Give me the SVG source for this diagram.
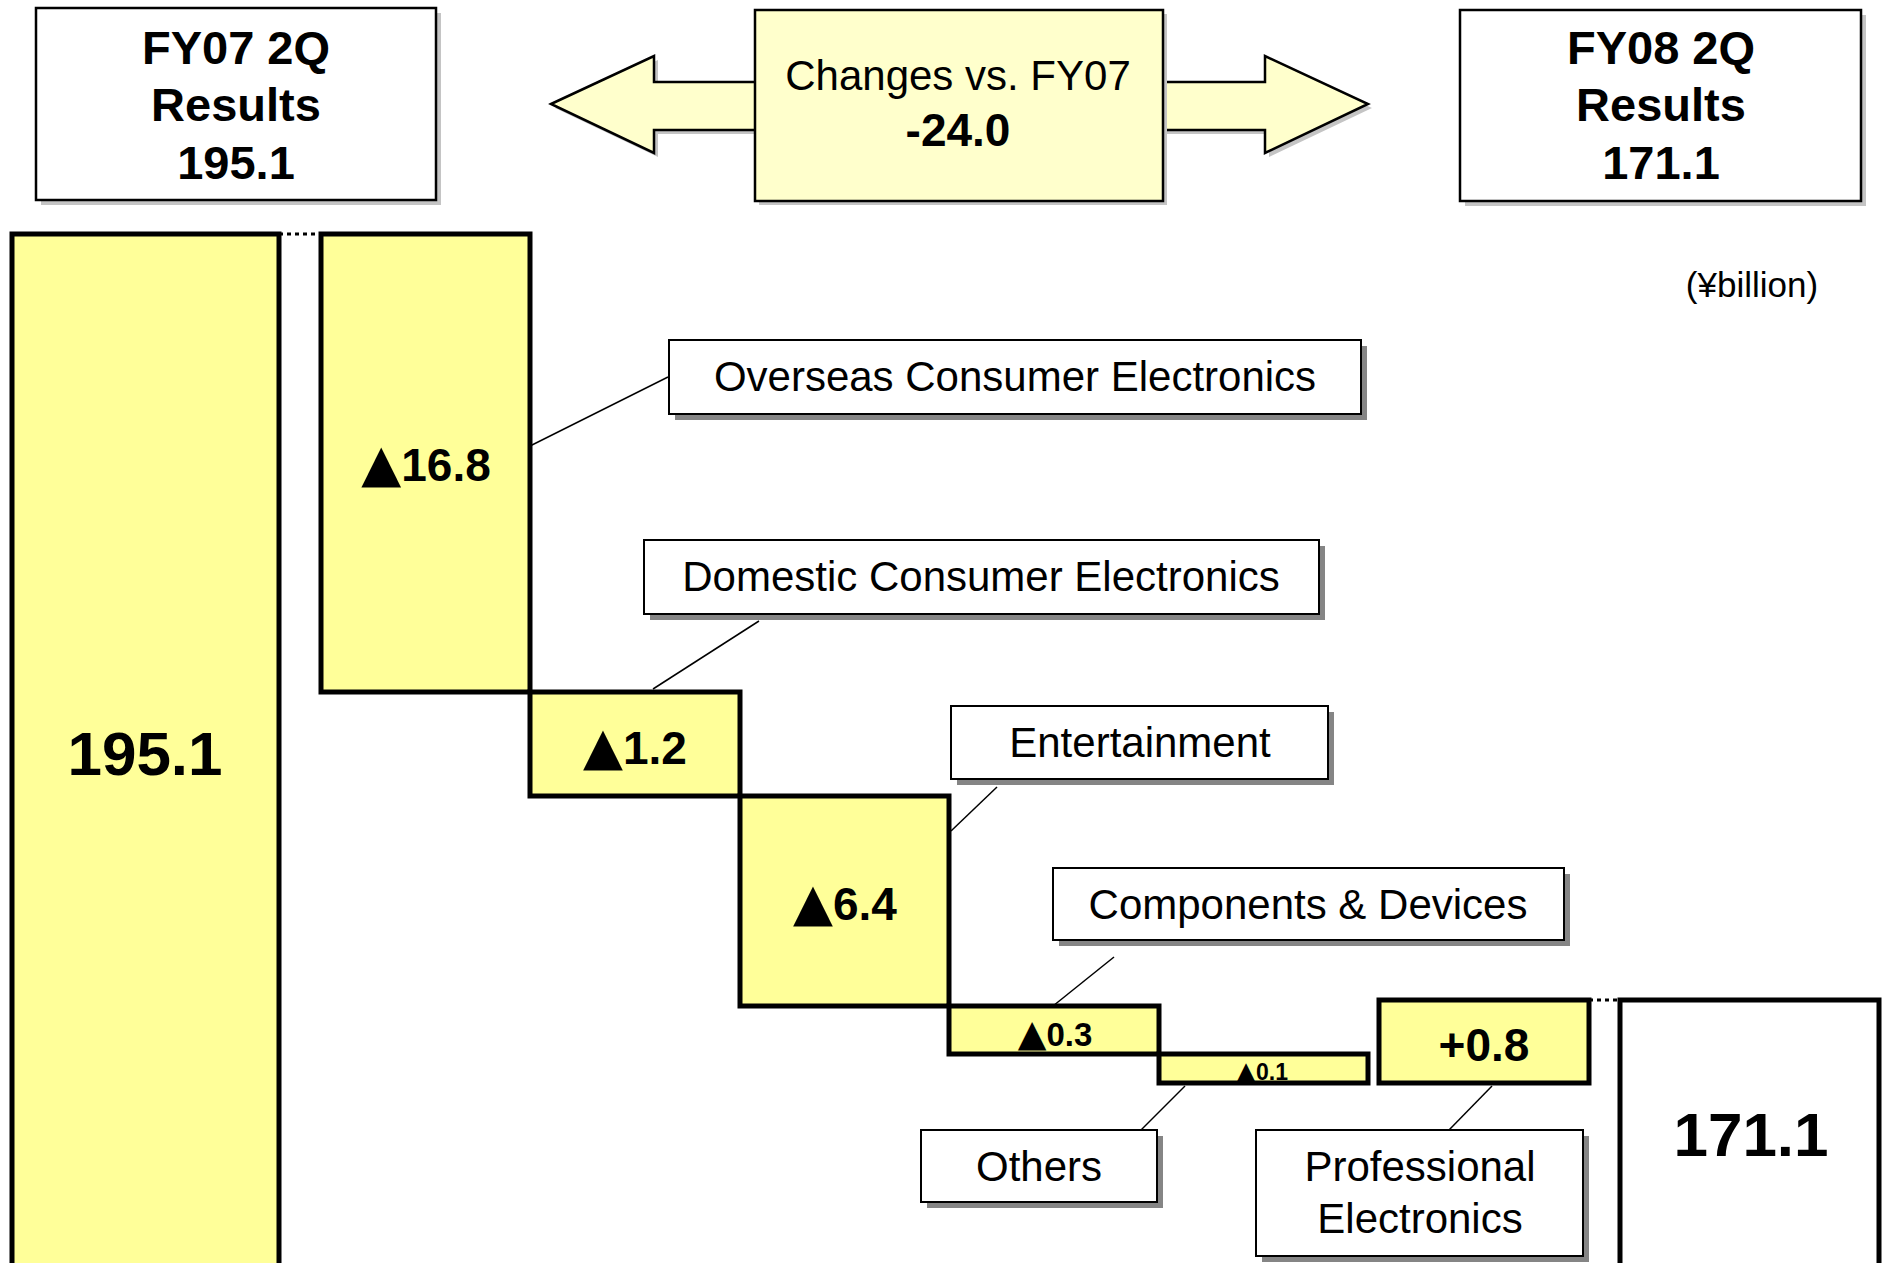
<svg xmlns="http://www.w3.org/2000/svg" width="1883" height="1263" viewBox="0 0 1883 1263">
<style>
text{font-family:"Liberation Sans",Arial,sans-serif;fill:#000;text-anchor:middle}
.b{font-weight:bold}
.tri{font-family:"DejaVu Sans",sans-serif;font-size:1.13em;font-weight:normal}
.hdr{fill:#fff;stroke:#000;stroke-width:2.5}
.hsh{fill:#c4c4c4}
.bar{fill:#FFFF99;stroke:#000;stroke-width:5}
.lbl{fill:#fff;stroke:#000;stroke-width:2}
.lsh{fill:#858585}
.lead{stroke:#000;stroke-width:1.5;fill:none}
.dot{stroke:#000;stroke-width:3;stroke-dasharray:4 4;fill:none}
</style>
<rect width="1883" height="1263" fill="#fff"/>

<g id="fy07-header">
<rect class="hsh" x="41" y="13" width="400" height="192"/>
<rect class="hdr" x="36" y="8" width="400" height="192"/>
<text class="b" x="236" y="64" font-size="47">FY07 2Q</text>
<text class="b" x="236" y="121" font-size="47">Results</text>
<text class="b" x="236" y="179" font-size="47">195.1</text>
</g>

<g id="changes">
<polygon class="hsh" points="555,108 658,60 658,86 1269,86 1269,60 1372,108 1269,157 1269,134 658,134 658,157"/>
<polygon points="551,104 654,56 654,82 1265,82 1265,56 1368,104 1265,153 1265,130 654,130 654,153" fill="#FFFFCC" stroke="#000" stroke-width="2.5" stroke-linejoin="miter"/>
<rect class="hsh" x="759" y="14" width="408" height="191"/>
<rect x="755" y="10" width="408" height="191" fill="#FFFFCC" stroke="#000" stroke-width="2.5"/>
<text x="958" y="90" font-size="42">Changes vs. FY07</text>
<text class="b" x="958" y="146" font-size="46">-24.0</text>
</g>

<g id="fy08-header">
<rect class="hsh" x="1465" y="15" width="401" height="191"/>
<rect class="hdr" x="1460" y="10" width="401" height="191"/>
<text class="b" x="1661" y="64" font-size="47">FY08 2Q</text>
<text class="b" x="1661" y="121" font-size="47">Results</text>
<text class="b" x="1661" y="179" font-size="47">171.1</text>
</g>

<g id="unit">
<text x="1752" y="297" font-size="35">(¥billion)</text>
</g>

<g id="connectors">
<line class="dot" x1="279" y1="234" x2="321" y2="234"/>
<line class="dot" x1="1589" y1="1000" x2="1620" y2="1000"/>
<line class="lead" x1="530" y1="446" x2="668" y2="377"/>
<line class="lead" x1="653" y1="689" x2="759" y2="621"/>
<line class="lead" x1="951" y1="831" x2="997" y2="787"/>
<line class="lead" x1="1053" y1="1006" x2="1114" y2="957"/>
<line class="lead" x1="1141" y1="1130" x2="1185" y2="1086"/>
<line class="lead" x1="1449" y1="1130" x2="1492" y2="1086"/>
</g>

<g id="bar-fy07">
<rect class="bar" x="12" y="234" width="267" height="1040"/>
<text class="b" x="145" y="775" font-size="62">195.1</text>
</g>
<g id="bar-overseas">
<rect class="bar" x="321" y="234" width="209" height="458"/>
<text class="b" x="426" y="481" font-size="46"><tspan class="tri">▲</tspan>16.8</text>
</g>
<g id="bar-domestic">
<rect class="bar" x="530" y="692" width="210" height="104"/>
<text class="b" x="635" y="764" font-size="46"><tspan class="tri">▲</tspan>1.2</text>
</g>
<g id="bar-entertainment">
<rect class="bar" x="740" y="796" width="209" height="210"/>
<text class="b" x="845" y="920" font-size="46"><tspan class="tri">▲</tspan>6.4</text>
</g>
<g id="bar-components">
<rect class="bar" x="949" y="1006" width="210" height="48"/>
<text class="b" x="1055" y="1046" font-size="33"><tspan class="tri">▲</tspan>0.3</text>
</g>
<g id="bar-others">
<rect class="bar" x="1159" y="1054" width="209" height="29"/>
<text class="b" x="1262" y="1080" font-size="23"><tspan class="tri">▲</tspan>0.1</text>
</g>
<g id="bar-professional">
<rect class="bar" x="1379" y="1000" width="210" height="83"/>
<text class="b" x="1484" y="1061" font-size="46">+0.8</text>
</g>
<g id="bar-fy08">
<rect x="1620" y="1000" width="259" height="280" fill="#fff" stroke="#000" stroke-width="5"/>
<text class="b" x="1751" y="1156" font-size="62">171.1</text>
</g>

<g id="label-overseas">
<rect class="lsh" x="675" y="346" width="692" height="74"/>
<rect class="lbl" x="669" y="340" width="692" height="74"/>
<text x="1015" y="391" font-size="42">Overseas Consumer Electronics</text>
</g>
<g id="label-domestic">
<rect class="lsh" x="650" y="546" width="675" height="74"/>
<rect class="lbl" x="644" y="540" width="675" height="74"/>
<text x="981" y="591" font-size="42">Domestic Consumer Electronics</text>
</g>
<g id="label-entertainment">
<rect class="lsh" x="957" y="712" width="377" height="73"/>
<rect class="lbl" x="951" y="706" width="377" height="73"/>
<text x="1140" y="757" font-size="42">Entertainment</text>
</g>
<g id="label-components">
<rect class="lsh" x="1059" y="874" width="511" height="72"/>
<rect class="lbl" x="1053" y="868" width="511" height="72"/>
<text x="1308" y="919" font-size="42">Components &amp; Devices</text>
</g>
<g id="label-others">
<rect class="lsh" x="927" y="1136" width="236" height="72"/>
<rect class="lbl" x="921" y="1130" width="236" height="72"/>
<text x="1039" y="1181" font-size="42">Others</text>
</g>
<g id="label-professional">
<rect class="lsh" x="1262" y="1136" width="327" height="126"/>
<rect class="lbl" x="1256" y="1130" width="327" height="126"/>
<text x="1420" y="1181" font-size="42">Professional</text>
<text x="1420" y="1233" font-size="42">Electronics</text>
</g>
</svg>
